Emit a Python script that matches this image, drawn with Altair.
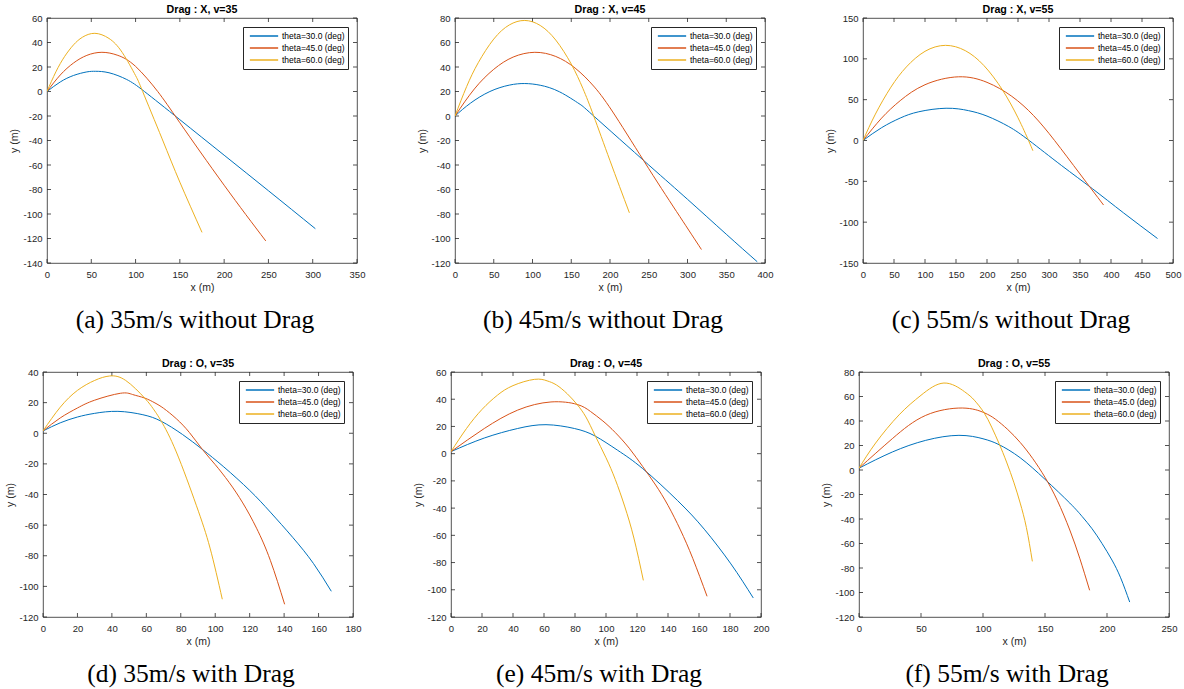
import altair as alt
import pandas as pd

SERIES = ["theta=30.0 (deg)", "theta=45.0 (deg)", "theta=60.0 (deg)"]
COLORS = ["#0072BD", "#D95319", "#EDB120"]

# (a) no drag, v=35
A30_X = [0, 15, 30, 45, 55, 70, 90, 110, 150, 200, 250, 303]
A30_Y = [0, 7.8, 13.1, 16.0, 16.5, 15.3, 9.8, 0, -23, -52, -81, -112]
A45_X = [0, 15, 30, 45, 62, 80, 100, 125, 150, 200, 247]
A45_Y = [0, 13.5, 23.3, 29.5, 32, 29.5, 20.5, 0, -25.5, -76.5, -122]
A60_X = [0, 10, 20, 30, 40, 54, 70, 85, 100, 108, 130, 150, 175]
A60_Y = [0, 16.0, 28.7, 38.1, 44.3, 47.5, 43.3, 31.8, 13.0, 0, -38.7, -74, -115]
A_XT = [0, 50, 100, 150, 200, 250, 300, 350]
A_YT = [-140, -120, -100, -80, -60, -40, -20, 0, 20, 40, 60]

# (b) no drag, v=45
B30_X = [0, 20, 45, 70, 90, 110, 135, 160, 179, 250, 300, 350, 390]
B30_Y = [0, 10.5, 20.0, 25.2, 26.5, 25.1, 19.7, 10.1, 0, -40, -68, -96.5, -119]
B45_X = [0, 25, 50, 75, 103, 130, 155, 180, 207, 250, 290, 318]
B45_Y = [0, 22.1, 38.1, 48.1, 52, 48.6, 39.1, 23.6, 0, -43, -82, -109]
B60_X = [0, 15, 30, 50, 70, 90, 110, 130, 150, 165, 179, 200, 225]
B60_Y = [0, 24.0, 43.5, 62.8, 74.3, 78, 73.9, 62.0, 42.4, 22.5, 0, -36.5, -79]
B_XT = [0, 50, 100, 150, 200, 250, 300, 350, 400]
B_YT = [-120, -100, -80, -60, -40, -20, 0, 20, 40, 60, 80]

# (c) no drag, v=55
C30_X = [0, 30, 60, 90, 134, 170, 200, 235, 268, 320, 370, 420, 475]
C30_Y = [0, 15.7, 27.5, 35.2, 39.5, 36.6, 29.9, 17.1, 0, -30.5, -59, -88.5, -120]
C45_X = [0, 30, 60, 100, 154, 200, 240, 275, 309, 350, 388]
C45_Y = [0, 27.4, 48.8, 68.3, 78, 71.2, 54.1, 30.6, 0, -41, -79]
C60_X = [0, 20, 45, 70, 100, 133, 165, 195, 225, 250, 267, 274]
C60_Y = [0, 32.3, 65.3, 90.1, 109.2, 116.5, 110.0, 91.8, 61.8, 27.8, 0, -12.5]
C_XT = [0, 50, 100, 150, 200, 250, 300, 350, 400, 450, 500]
C_YT = [-150, -100, -50, 0, 50, 100, 150]

# (d) drag, v=35
D30_X = [0, 10, 20, 30, 43.5, 58, 68.7, 81, 92.5, 105, 120, 132, 145, 157, 167.4]
D30_Y = [1.5, 6.8, 10.6, 13, 14.3, 12.1, 7.8, -0.8, -10.5, -22, -37.3, -51.5, -68, -85, -103.2]
D45_X = [0, 10, 20, 30, 44.9, 52, 59, 65, 70, 77.4, 85, 92.5, 100, 108, 116, 124, 132, 140.3]
D45_Y = [1.5, 10, 16.5, 21.6, 26.1, 25.3, 23, 19.8, 16.3, 9.5, 0.5, -10.5, -20.5, -32, -45.5, -62, -83, -111.7]
D60_X = [0, 10, 20, 30, 38.7, 48, 59, 64, 68.7, 77.4, 89, 97, 104.1]
D60_Y = [1.5, 17, 28, 34.5, 37.4, 34.5, 23, 16, 7.8, -12.2, -47, -75, -108.4]
D_XT = [0, 20, 40, 60, 80, 100, 120, 140, 160, 180]
D_YT = [-120, -100, -80, -60, -40, -20, 0, 20, 40]

# (e) drag, v=45
E30_X = [0, 21.5, 43, 61.3, 79.6, 92.9, 107.5, 123.7, 146.2, 163.4, 180.6, 195]
E30_Y = [1.5, 11.5, 18.5, 21.3, 18.5, 13, 2.5, -11, -34.5, -55.5, -81, -106]
E45_X = [0, 21.5, 43, 64.5, 81.3, 90, 98, 106, 115, 123.7, 132, 140, 148, 156, 165.2]
E45_Y = [1.5, 18.5, 32, 38, 36.2, 31, 24, 15.5, 4, -9.5, -23, -38, -56, -77, -104.8]
E60_X = [0, 10, 20, 30, 40, 53.8, 62, 68, 75, 81.3, 87, 92.9, 100, 106, 112, 118, 124.1]
E60_Y = [1.5, 18.5, 32.5, 43, 50, 54.6, 53.5, 50.5, 44, 36.2, 27, 13.5, -3, -19, -38.5, -62, -93.1]
E_XT = [0, 20, 40, 60, 80, 100, 120, 140, 160, 180, 200]
E_YT = [-120, -100, -80, -60, -40, -20, 0, 20, 40, 60]

# (f) drag, v=55
F30_X = [0, 26.9, 53.8, 80.6, 100, 112.9, 130, 150, 170, 180, 188, 196, 204, 211, 218.3]
F30_Y = [1.5, 14.7, 24.2, 28.3, 25.5, 20.7, 10, -7.6, -27, -38, -48, -60, -73.5, -88, -107.8]
F45_X = [0, 26.9, 53.8, 83.3, 100.8, 110, 120, 130, 140, 150, 160, 170, 178, 186]
F45_Y = [1.5, 25.6, 44.6, 50.6, 46.8, 41.5, 33, 22.5, 9.5, -6, -25, -49, -72, -98.2]
F60_X = [0, 13.4, 32.3, 50, 68.5, 85, 93, 100.8, 107, 113, 119, 125, 130, 135, 139.8]
F60_Y = [1.5, 22, 45, 61, 71, 64, 57, 46.8, 35, 21.5, 6.5, -10.5, -27, -47, -74.6]
F_XT = [0, 50, 100, 150, 200, 250]
F_YT = [-120, -100, -80, -60, -40, -20, 0, 20, 40, 60, 80]

PANELS = [
    dict(title="Drag : X, v=35", caption="(a) 35m/s without Drag", xdom=[0, 350], xt=A_XT, ydom=[-140, 60], yt=A_YT,
         series=[(A30_X, A30_Y), (A45_X, A45_Y), (A60_X, A60_Y)]),
    dict(title="Drag : X, v=45", caption="(b) 45m/s without Drag", xdom=[0, 400], xt=B_XT, ydom=[-120, 80], yt=B_YT,
         series=[(B30_X, B30_Y), (B45_X, B45_Y), (B60_X, B60_Y)]),
    dict(title="Drag : X, v=55", caption="(c) 55m/s without Drag", xdom=[0, 500], xt=C_XT, ydom=[-150, 150], yt=C_YT,
         series=[(C30_X, C30_Y), (C45_X, C45_Y), (C60_X, C60_Y)]),
    dict(title="Drag : O, v=35", caption="(d) 35m/s with Drag", xdom=[0, 180], xt=D_XT, ydom=[-120, 40], yt=D_YT,
         series=[(D30_X, D30_Y), (D45_X, D45_Y), (D60_X, D60_Y)]),
    dict(title="Drag : O, v=45", caption="(e) 45m/s with Drag", xdom=[0, 200], xt=E_XT, ydom=[-120, 60], yt=E_YT,
         series=[(E30_X, E30_Y), (E45_X, E45_Y), (E60_X, E60_Y)]),
    dict(title="Drag : O, v=55", caption="(f) 55m/s with Drag", xdom=[0, 250], xt=F_XT, ydom=[-120, 80], yt=F_YT,
         series=[(F30_X, F30_Y), (F45_X, F45_Y), (F60_X, F60_Y)]),
]

W, H = 310, 245
FONT = "Liberation Sans"
AX = "#262626"


def make_panel(p):
    rows = []
    for name, (xs, ys) in zip(SERIES, p["series"]):
        for i, (x, y) in enumerate(zip(xs, ys)):
            rows.append({"series": name, "x": x, "y": y, "i": i})
    df = pd.DataFrame(rows)
    xsc = alt.Scale(domain=p["xdom"], nice=False, zero=False)
    ysc = alt.Scale(domain=p["ydom"], nice=False, zero=False)
    common = dict(grid=False, domain=False, ticks=False, labelFont=FONT, labelFontSize=9.5,
                  labelColor=AX, titleFont=FONT, titleFontSize=10.5, titleFontWeight="normal", titleColor=AX,
                  labelFlush=False, labelOverlap=False, labelExpr="'' + datum.value")
    xax = alt.Axis(values=p["xt"], title="x (m)", labelPadding=6, titlePadding=4, **common)
    yax = alt.Axis(values=p["yt"], title="y (m)", labelPadding=5, titlePadding=3, **common)

    def X(f="x"):
        return alt.X(f + ":Q", scale=xsc, axis=xax)

    def Y(f="y"):
        return alt.Y(f + ":Q", scale=ysc, axis=yax)

    lines = alt.Chart(df).mark_line(strokeWidth=1.0, interpolate="natural", clip=True).encode(
        x=X(), y=Y(),
        color=alt.Color("series:N", scale=alt.Scale(domain=SERIES, range=COLORS),
                        legend=alt.Legend(title=None, orient="top-right", offset=9, fillColor="white",
                                          strokeColor=AX, padding=3, symbolType="stroke", symbolSize=800,
                                          symbolStrokeWidth=1.3, symbolOffset=3, clipHeight=12, rowPadding=0,
                                          labelFont=FONT, labelFontSize=8.5, labelColor="#000", labelOffset=3,
                                          labelLimit=200, cornerRadius=0)),
        order="i:Q",
    )
    xt = pd.DataFrame({"x": p["xt"]})
    yt = pd.DataFrame({"y": p["yt"]})
    rk = dict(color=AX, strokeWidth=0.8)
    tb = alt.Chart(xt).mark_rule(**rk).encode(x=X(), y=alt.value(H), y2=alt.value(H - 4))
    tt = alt.Chart(xt).mark_rule(**rk).encode(x=X(), y=alt.value(0), y2=alt.value(4))
    tl = alt.Chart(yt).mark_rule(**rk).encode(y=Y(), x=alt.value(0), x2=alt.value(4))
    tr = alt.Chart(yt).mark_rule(**rk).encode(y=Y(), x=alt.value(W), x2=alt.value(W - 4))
    cap = alt.Chart(pd.DataFrame({"c": [p["caption"]]})).mark_text(
        font="Liberation Serif", fontSize=25.5, color="#000", baseline="middle", align="center"
    ).encode(text="c:N", x=alt.value(W / 2 - 7), y=alt.value(H + 57))
    return alt.layer(tb, tt, tl, tr, lines, cap).properties(
        width=W, height=H,
        title=alt.Title(p["title"], font=FONT, fontSize=10.7, fontWeight="bold", color="#000", offset=-3,
                        anchor="middle"),
    )


RES = dict(color="independent", x="independent", y="independent")

inner1 = alt.hconcat(*[make_panel(p) for p in PANELS[:3]], spacing=98, bounds="flush").resolve_scale(**RES)
spacer = alt.Chart(pd.DataFrame({"s": [0]})).mark_point(opacity=0).encode(
    x=alt.value(0), y=alt.value(0)
).properties(width=1, height=1, view=alt.ViewBackground(stroke=None))
row1 = alt.hconcat(spacer, inner1, spacing=3, bounds="flush").resolve_scale(**RES)
row2 = alt.hconcat(*[make_panel(p) for p in PANELS[3:]], spacing=98, bounds="flush").resolve_scale(**RES)

chart = alt.vconcat(row1, row2, spacing=23).resolve_scale(**RES).properties(
    padding={"left": 5, "top": 3, "right": 0, "bottom": 0}, background="white"
).configure_view(stroke=AX, strokeWidth=0.8)

chart.save("out.html", embed_options={"renderer": "svg", "actions": False})
